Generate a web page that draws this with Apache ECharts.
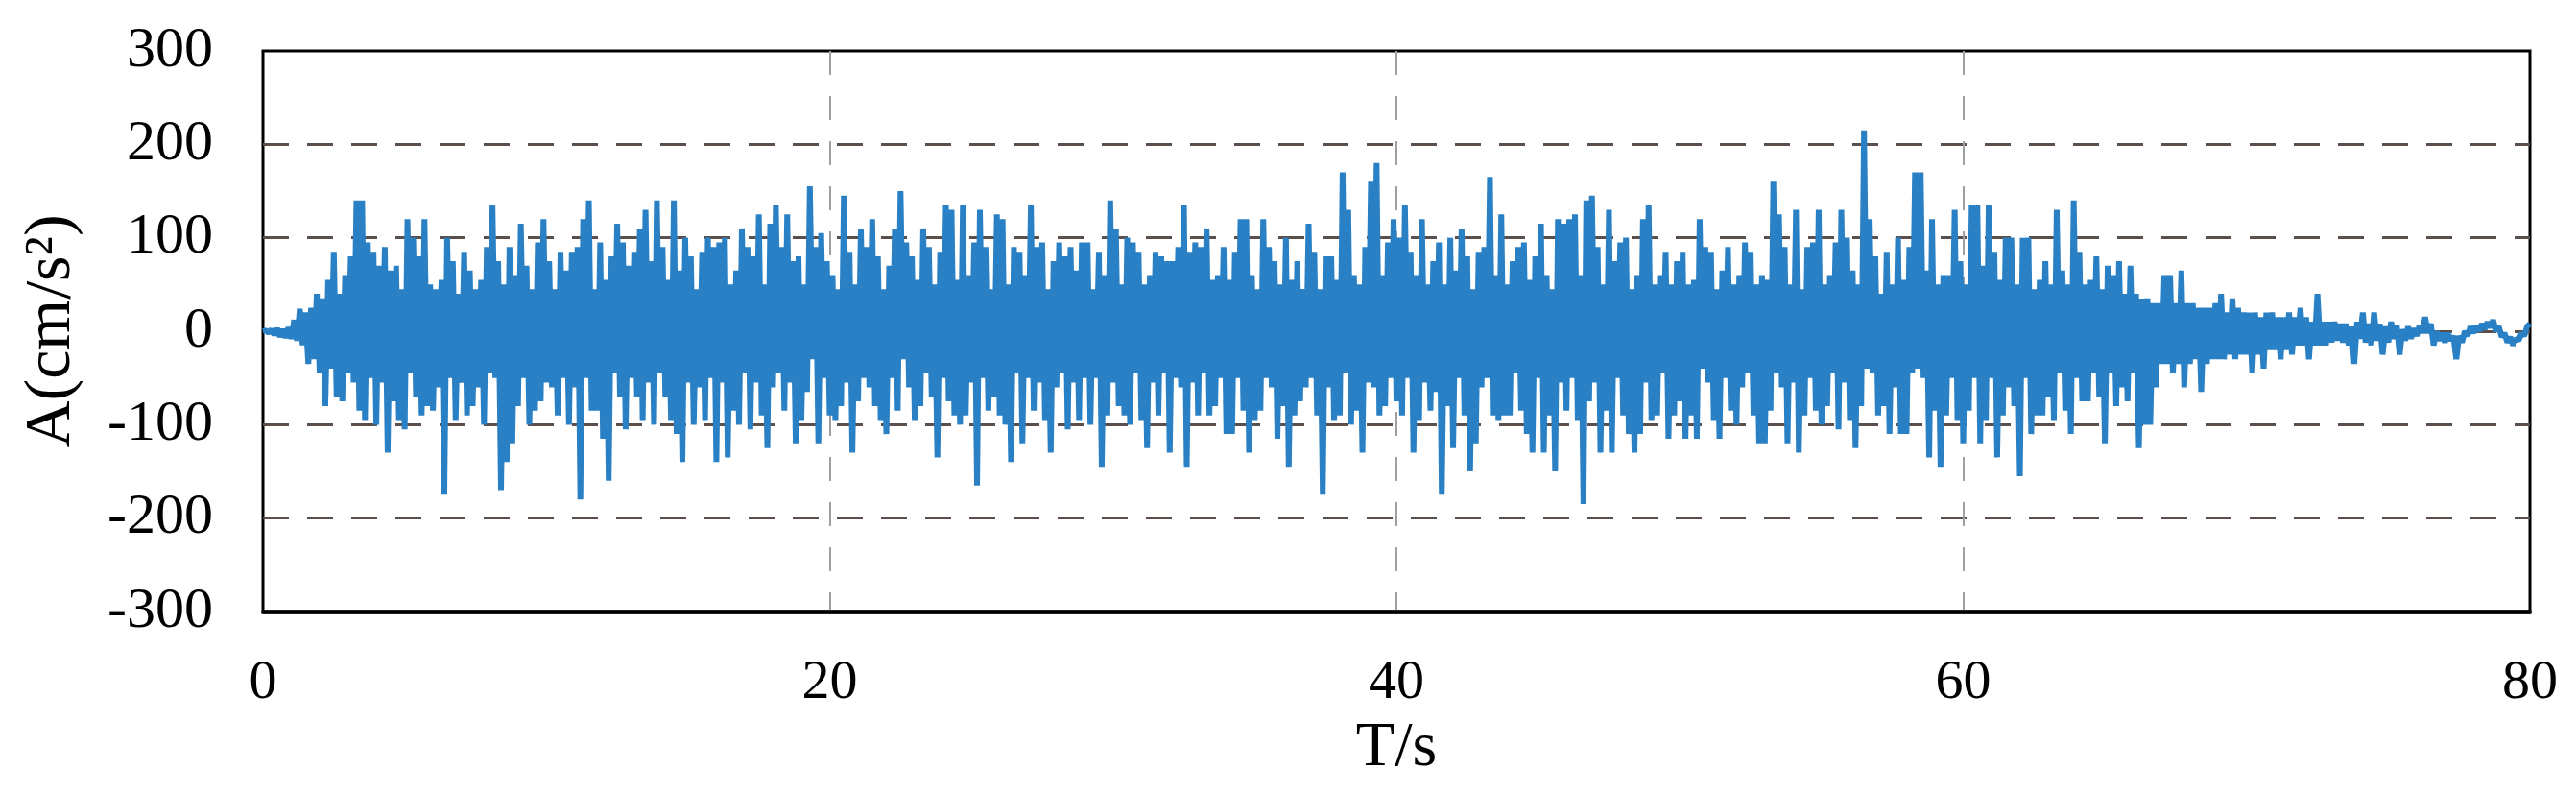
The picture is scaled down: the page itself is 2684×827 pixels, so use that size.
<!DOCTYPE html>
<html><head><meta charset="utf-8">
<script src="https://cdn.jsdelivr.net/npm/echarts@6/dist/echarts.min.js"></script>
<style>html,body{margin:0;padding:0;background:#fff}#c{width:2684px;height:827px}</style>
</head><body><div id="c"></div>
<script>
// sampling step of the record (s)
const dt = 0.1;
// acceleration (cm/s^2), 10 samples per second
const acc00 = [
 0, 1, -2, 2, -4, 3, -6, 2, -7, 4,
 -8, 12, -10, 24, -15, 20, -35, 25, -30, 40,
 -45, 35, -80, 55, -40, 85, -70, 40, -75, 60,
 -45, 80, -55, 140, -85, 140, -95, 95, -50, 85,
 -100, 70, -55, 90, -130, 65, -75, 70, -95, 45,
 -105, 120, -45, 100, -70, 80, -90, 120, -80, 50,
 -85, 45, -60, 55, -175, 100, -50, 75, -95, 40,
 -55, 85, -90, 65, -80, 45, -60, 55, -100, 90,
 -45, 135, -50, 75, -170, 50, -140, 90, -120, 60,
 -80, 115, -50, 70, -100, 45, -85, 95, -75, 120];
const acc10 = [
 -55, 75, -60, 45, -90, 85, -50, 65, -100, 85,
 -60, 90, -180, 120, -50, 140, -85, 45, -85, 95,
 -115, 55, -160, 80, -45, 115, -70, 95, -105, 70,
 -50, 85, -70, 110, -95, 130, -55, 75, -100, 140,
 -45, 90, -70, 55, -95, 140, -110, 65, -140, 100,
 -55, 80, -100, 45, -60, 85, -95, 100, -50, 90,
 -140, 95, -55, 100, -135, 50, -85, 65, -100, 110,
 -45, 90, -105, 80, -55, 125, -90, 50, -125, 115,
 -60, 135, -45, 90, -85, 125, -55, 75, -120, 80,
 -95, 50, -65, 155, -30, 90, -120, 105, -50, 75];
const acc20 = [
 -90, 60, -95, 45, -80, 145, -55, 85, -130, 50,
 -75, 110, -50, 90, -60, 120, -80, 80, -95, 45,
 -110, 70, -50, 110, -85, 150, -30, 95, -60, 80,
 -95, 55, -80, 110, -45, 90, -70, 50, -135, 85,
 -50, 135, -75, 130, -90, 55, -100, 135, -90, 60,
 -55, 95, -165, 130, -50, 90, -85, 45, -70, 125,
 -90, 120, -100, 50, -140, 90, -45, 85, -120, 60,
 -50, 135, -85, 90, -55, 95, -95, 45, -130, 75,
 -60, 95, -45, 80, -105, 90, -55, 65, -95, 95,
 -50, 95, -100, 45, -50, 85, -145, 60, -90, 140];
const acc30 = [
 -55, 110, -80, 50, -90, 100, -100, 95, -45, 85,
 -95, 50, -125, 60, -55, 85, -90, 80, -45, 75,
 -130, 75, -50, 90, -60, 135, -145, 85, -55, 95,
 -90, 90, -45, 110, -90, 55, -80, 60, -50, 90,
 -110, 55, -110, 85, -50, 120, -85, 120, -130, 60,
 -95, 45, -85, 120, -50, 90, -60, 75, -115, 50,
 -80, 100, -145, 55, -90, 75, -75, 45, -60, 115,
 -50, 85, -90, 45, -175, 80, -60, 80, -95, 55,
 -90, 170, -45, 130, -100, 60, -85, 50, -130, 90,
 -55, 160, -60, 180, -90, 60, -80, 95, -50, 120];
const acc40 = [
 -75, 100, -90, 135, -50, 85, -130, 60, -95, 120,
 -55, 50, -85, 75, -65, 95, -175, 50, -80, 100,
 -125, 65, -50, 110, -90, 80, -150, 45, -120, 85,
 -60, 90, -50, 165, -90, 60, -95, 125, -90, 50,
 -90, 75, -45, 90, -85, 95, -110, 55, -130, 80,
 -50, 115, -130, 60, -90, 45, -150, 120, -55, 115,
 -85, 120, -50, 125, -95, 60, -185, 140, -75, 145,
 -55, 90, -130, 50, -85, 130, -130, 75, -50, 95,
 -90, 100, -110, 45, -130, 60, -110, 120, -55, 135,
 -95, 50, -90, 60, -45, 85, -115, 50, -90, 75];
const acc50 = [
 -75, 85, -115, 50, -90, 55, -115, 120, -40, 90,
 -55, 85, -95, 45, -115, 65, -50, 90, -85, 50,
 -100, 60, -60, 95, -45, 85, -90, 50, -120, 60,
 -120, 55, -85, 160, -45, 125, -60, 90, -120, 50,
 -55, 130, -130, 45, -90, 90, -50, 95, -85, 130,
 -100, 50, -80, 60, -45, 95, -105, 130, -55, 100,
 -95, 65, -125, 50, -80, 215, -40, 120, -45, 80,
 -90, 40, -80, 85, -110, 50, -60, 100, -110, 55,
 -110, 90, -45, 170, -40, 170, -50, 65, -135, 120,
 -85, 50, -145, 60, -90, 60, -50, 130, -95, 75];
const acc60 = [
 -120, 50, -85, 135, -50, 135, -120, 70, -95, 135,
 -50, 85, -135, 55, -90, 100, -60, 100, -80, 50,
 -155, 100, -50, 100, -110, 45, -90, 55, -90, 75,
 -70, 50, -95, 130, -45, 65, -85, 50, -110, 140,
 -50, 85, -75, 50, -75, 55, -45, 80, -70, 45,
 -120, 70, -45, 60, -80, 75, -60, 40, -75, 70,
 -45, 40, -125, 35, -100, 35, -100, 30, -60, 30,
 -35, 60, -35, 60, -45, 30, -35, 65, -60, 30,
 -35, 30, -30, 25, -65, 25, -35, 25, -30, 30,
 -30, 40, -30, 20, -25, 35, -30, 25, -25, 20];
const acc70 = [
 -25, 20, -45, 20, -25, 15, -40, 20, -20, 20,
 -20, 15, -30, 15, -20, 20, -25, 15, -15, 25,
 -15, 15, -30, 10, -15, 40, -15, 10, -15, 10,
 -12, 10, -10, 8, -12, 8, -15, 5, -35, 10,
 -8, 20, -12, 8, -15, 20, -10, 8, -25, 5,
 -12, 10, -8, 6, -25, 2, -10, 5, -8, 3,
 -5, 6, -2, 15, -2, 8, -15, 0, -10, -2,
 -12, -2, -10, -5, -30, -5, -12, 0, -5, 5,
 -2, 6, 0, 8, 2, 10, 4, 12, 0, 5,
 -6, -2, -12, -6, -15, -8, -10, -2, -5, 5];
const acc80 = [8];

const xTicks = [0, 20, 40, 60, 80];
const yTicks = [-300, -200, -100, 0, 100, 200, 300];
const xName = 'T/s';
const yName = 'A(cm/s\u00B2)';

const acc = [].concat(acc00, acc10, acc20, acc30, acc40, acc50, acc60, acc70, acc80);
const points = acc.map((v, i) => [Math.round(i * dt * 10) / 10, v]);

const serif = 'Liberation Serif';
const chart = echarts.init(document.getElementById('c'), null, {renderer: 'canvas'});
chart.setOption({
  animation: false,
  backgroundColor: '#fff',
  grid: {left: 274, right: 48, top: 53, bottom: 190, show: true,
         borderColor: '#000', borderWidth: 3, backgroundColor: '#fff'},
  xAxis: {
    type: 'value', min: xTicks[0], max: xTicks[xTicks.length - 1],
    interval: xTicks[1] - xTicks[0],
    axisLine: {show: true, onZero: false, lineStyle: {color: '#000', width: 3.5}},
    axisTick: {show: false},
    axisLabel: {fontFamily: serif, fontSize: 58, color: '#000', margin: 46},
    splitLine: {show: true, showMinLine: false, showMaxLine: false,
                lineStyle: {color: '#a0a0a0', width: 2, type: [25, 22]}},
    name: xName, nameLocation: 'middle', nameGap: 110,
    nameTextStyle: {fontFamily: serif, fontSize: 66, color: '#000'}
  },
  yAxis: {
    type: 'value', min: yTicks[0], max: yTicks[yTicks.length - 1],
    interval: yTicks[1] - yTicks[0],
    axisLine: {show: false},
    axisTick: {show: false},
    axisLabel: {fontFamily: serif, fontSize: 60, color: '#000', margin: 52},
    splitLine: {show: true, showMinLine: false, showMaxLine: false,
                lineStyle: {color: '#5a4f4b', width: 3, type: [27, 19]}},
    name: yName, nameLocation: 'middle', nameGap: 186, nameRotate: 90,
    nameTextStyle: {fontFamily: serif, fontSize: 68, color: '#000'}
  },
  series: [{
    type: 'line', data: points, showSymbol: false, sampling: null,
    lineStyle: {color: '#2a80c4', width: 6, join: 'bevel'},
    z: 3
  }]
});
</script>
</body></html>
